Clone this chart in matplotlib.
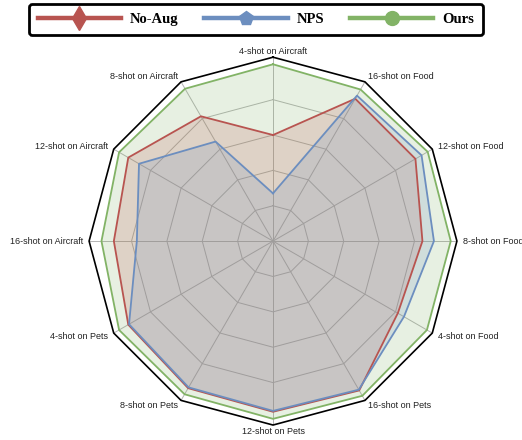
import numpy as np
import matplotlib
matplotlib.use("Agg")
import matplotlib.pyplot as plt
from matplotlib.lines import Line2D

labels = ['4-shot on Aircraft', '8-shot on Aircraft', '12-shot on Aircraft', '16-shot on Aircraft',
          '4-shot on Pets', '8-shot on Pets', '12-shot on Pets', '16-shot on Pets',
          '4-shot on Food', '8-shot on Food', '12-shot on Food', '16-shot on Food']
no_aug = [0.60, 0.815, 0.945, 0.90, 0.945, 0.96, 0.965, 0.975, 0.815, 0.845, 0.93, 0.93]
nps = [0.27, 0.65, 0.875, 0.77, 0.94, 0.955, 0.96, 0.97, 0.855, 0.91, 0.97, 0.95]
ours = [1.0, 0.995, 1.005, 0.97, 1.005, 1.0, 1.005, 1.01, 1.005, 1.005, 1.01, 0.99]

names = ['No-Aug', 'NPS', 'Ours']
colors = ['#B85450', '#6C8EBF', '#82B366']
markers = ['d', 'p', 'o']
rings = [0.2, 0.4, 0.6, 0.8]
rmax = 1.04

n = len(labels)
theta = np.linspace(0, 2 * np.pi, n, endpoint=False)
tc = np.append(theta, theta[0])

fig = plt.figure(figsize=(5.22, 4.40), dpi=100)
ax = fig.add_axes([0.1705, 0.034, 0.705, 0.836], projection='polar')
ax.set_theta_offset(np.pi / 2)
ax.set_ylim(0, rmax)
ax.spines['polar'].set_visible(False)
ax.grid(False)
ax.set_xticks([])
ax.set_yticks([])
ax.patch.set_alpha(0)

# polygon grid and spokes
for r in rings:
    ax.plot(tc, [r] * (n + 1), color='#B4B4B4', lw=0.7, zorder=1)
for t in theta:
    ax.plot([t, t], [0, rmax], color='#B4B4B4', lw=0.7, zorder=1)
ax.plot(tc, [rmax] * (n + 1), color='black', lw=1.2, zorder=5, clip_on=False)

for vals, c, z in [(ours, colors[2], 2), (no_aug, colors[0], 3), (nps, colors[1], 4)]:
    v = np.append(vals, vals[0])
    ax.fill(tc, v, color=c, alpha=0.19, lw=0, zorder=z)
    ax.plot(tc, v, color=c, lw=1.3, zorder=z + 3)

for t, lab in zip(theta, labels):
    x = np.cos(t + np.pi / 2)
    if abs(x) < 0.1:
        ha = 'center'
    elif x > 0:
        ha = 'left'
    else:
        ha = 'right'
    ax.text(t, 1.075, lab, ha=ha, va='center', fontsize=6.5,
            family='Liberation Sans', color='#222222', clip_on=False)

handles = [Line2D([0], [0], color=c, lw=3.2, marker=m, markersize=ms)
           for c, m, ms in zip(colors, markers, [12, 10, 10])]
leg = fig.legend(handles, names, loc='center', bbox_to_anchor=(0.49, 0.955), ncol=3,
                 prop={'family': 'Liberation Serif', 'weight': 'bold', 'size': 10.5},
                 handlelength=5.7, handletextpad=0.6, columnspacing=1.8,
                 numpoints=1, fancybox=True, framealpha=1, borderpad=0.6)
leg.get_frame().set_edgecolor('black')
leg.get_frame().set_linewidth(2)

fig.savefig('out.png', dpi=100)
